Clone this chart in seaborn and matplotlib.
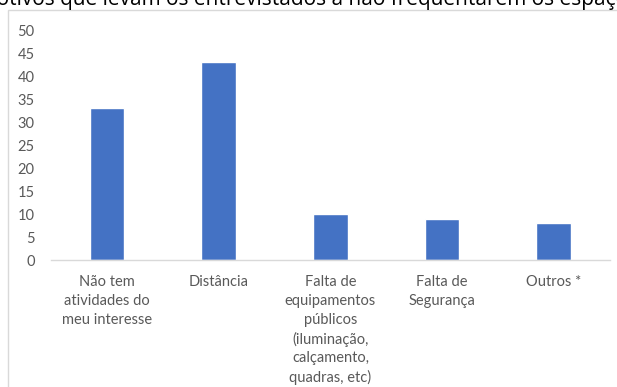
import matplotlib
matplotlib.use("Agg")
import matplotlib.pyplot as plt
import matplotlib.patches as mpatches
import seaborn as sns
import pandas as pd

categories = [
    "Não tem\natividades do\nmeu interesse",
    "Distância",
    "Falta de\nequipamentos\npúblicos\n(iluminação,\ncalçamento,\nquadras, etc)",
    "Falta de\nSegurança",
    "Outros *",
]
values = [33, 43, 10, 9, 8]
yticks = [0, 5, 10, 15, 20, 25, 30, 35, 40, 45, 50]
title = "Motivos que levam os entrevistados a não frequentarem os espaços"

sns.set_theme(style="white")
plt.rcParams["font.family"] = ["Lato", "DejaVu Sans"]

df = pd.DataFrame({"motivo": categories, "valor": values})

fig = plt.figure(figsize=(6.17, 3.87), dpi=100)
ax = fig.add_axes([0.083, 0.328, 0.905, 0.594])

sns.barplot(data=df, x="motivo", y="valor", color="#4472C4", width=0.31,
            saturation=1, ax=ax)

ax.set_ylim(0, 50)
ax.set_yticks(yticks)
ax.set_xlabel("")
ax.set_ylabel("")
ax.tick_params(axis="both", length=0, labelsize=10.5, colors="#595959")
ax.tick_params(axis="x", pad=11)
ax.tick_params(axis="y", pad=12)
for lbl in ax.get_xticklabels():
    lbl.set_linespacing(1.42)
for side in ["top", "right", "left"]:
    ax.spines[side].set_visible(False)
ax.spines["bottom"].set_color("#D9D9D9")
ax.spines["bottom"].set_linewidth(1)

# chart border
fig.patches.append(mpatches.Rectangle((8 / 617, -0.1), 1.2, 1 - 10 / 387 + 0.1,
                                      transform=fig.transFigure, fill=False,
                                      edgecolor="#D9D9D9", linewidth=1))

fig.text(0.5, 1 - 5 / 387, title, ha="center", va="baseline",
         fontsize=15, color="black", family=["Open Sans", "DejaVu Sans"])

fig.savefig("out.png", dpi=100)
